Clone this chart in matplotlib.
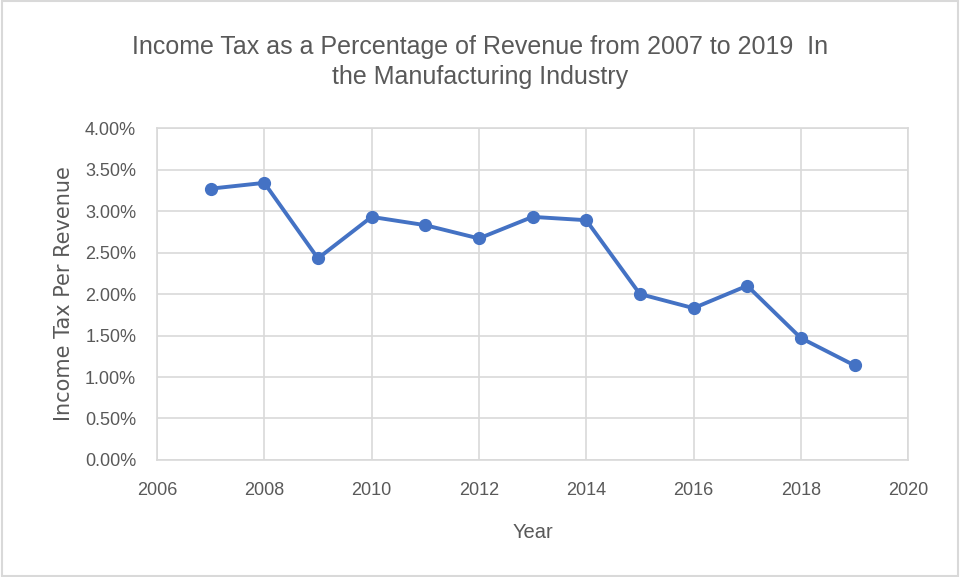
import numpy as np
import matplotlib.pyplot as plt
from matplotlib.ticker import FuncFormatter, MultipleLocator

years = [2007, 2008, 2009, 2010, 2011, 2012, 2013, 2014, 2015, 2016, 2017, 2018, 2019]
tax_pct = [3.27, 3.34, 2.43, 2.93, 2.83, 2.67, 2.93, 2.89, 2.00, 1.83, 2.10, 1.47, 1.14]

title = "Income Tax as a Percentage of Revenue from 2007 to 2019  In\nthe Manufacturing Industry"
txt_color = "#595959"
grid_color = "#d9d9d9"
line_color = "#4472c4"
fonts = ["Liberation Sans", "DejaVu Sans"]

fig = plt.figure(figsize=(9.6, 5.77), dpi=100)
fig.patch.set_facecolor("white")
ax = fig.add_axes([0.1635, 0.2028, 0.7825, 0.5752])

ax.plot(years, tax_pct, color=line_color, lw=2.8, marker="o", ms=8.5,
        markerfacecolor=line_color, markeredgecolor=line_color, zorder=3)

ax.set_xlim(2006, 2020)
ax.set_ylim(0, 4)
ax.xaxis.set_major_locator(MultipleLocator(2))
ax.yaxis.set_major_locator(MultipleLocator(0.5))
ax.yaxis.set_major_formatter(FuncFormatter(lambda v, p: f"{v:.2f}%"))
ax.grid(True, color=grid_color, lw=1.2)
ax.set_axisbelow(True)
for s in ax.spines.values():
    s.set_color(grid_color)
    s.set_linewidth(1.2)
ax.tick_params(length=0, labelsize=13, colors=txt_color)
ax.tick_params(axis="x", pad=16)
ax.tick_params(axis="y", pad=15)
for lab in ax.get_xticklabels() + ax.get_yticklabels():
    lab.set_family(fonts)

ax.set_xlabel("Year", fontsize=14.5, color=txt_color, family=fonts, labelpad=17)
ax.set_ylabel("Income Tax Per Revenue", fontsize=15, color=txt_color,
              family="DejaVu Sans", labelpad=8)

fig.text(0.5, 0.893, title, ha="center", va="center", fontsize=18,
         color=txt_color, family=fonts, linespacing=1.3)

# thin frame round the whole chart
fig.add_artist(plt.Rectangle((0.002, 0.002), 0.996, 0.996, transform=fig.transFigure,
                             fill=False, edgecolor=grid_color, lw=1.5))

fig.savefig("out.png", dpi=100)
